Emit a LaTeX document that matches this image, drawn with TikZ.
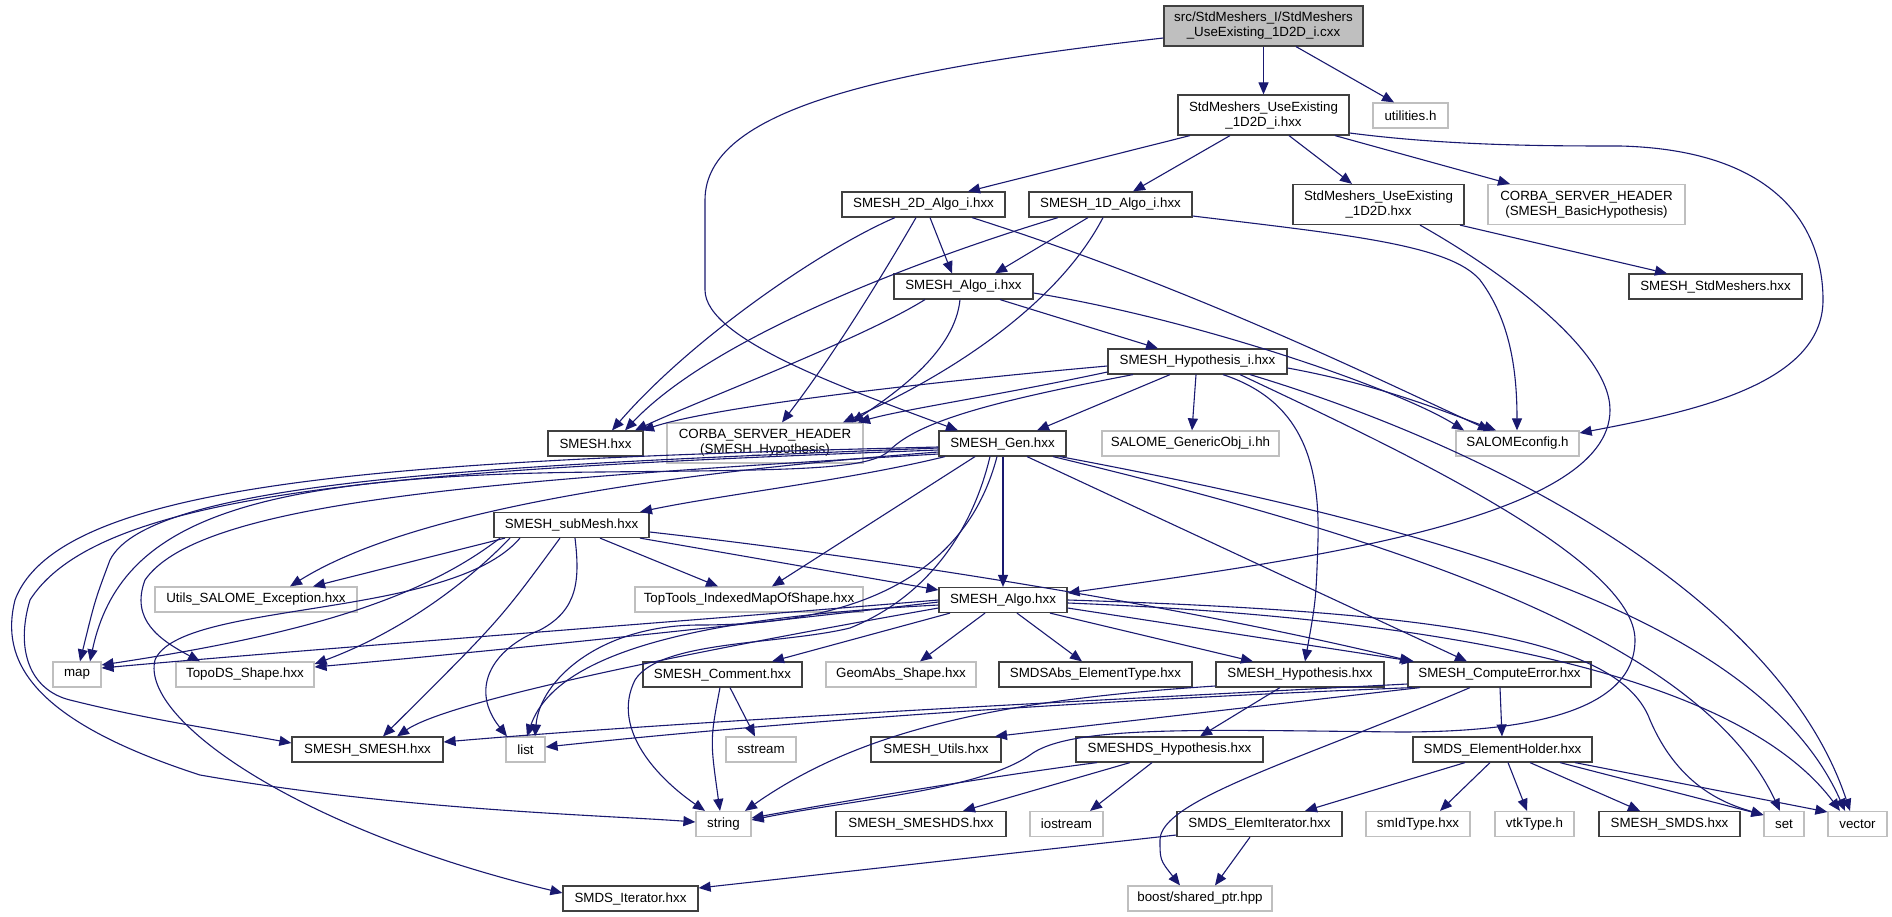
\documentclass[tikz,border=0pt]{standalone}
\usepackage{fontspec}
\setmainfont{Liberation Sans}
\usetikzlibrary{arrows.meta}
\definecolor{edgec}{HTML}{191970}
\definecolor{bordk}{HTML}{404040}
\definecolor{bordg}{HTML}{BFBFBF}
\definecolor{rootf}{HTML}{BFBFBF}
\newcommand{\nodefnt}{\fontsize{13.33pt}{15pt}\selectfont}
\begin{document}
\begin{tikzpicture}[x=1pt,y=-1pt,
  nb/.style={draw=bordk, line width=1.2pt, inner sep=0pt, align=center, font=\nodefnt, rectangle},
  ng/.style={nb, draw=bordg},
  nr/.style={nb, fill=rootf},
  e/.style={draw=edgec, line width=1.1pt, -{Triangle[length=12pt,width=10pt]}}]
\useasboundingbox (0,0) rectangle (1892,917);
\fill[white] (0,0) rectangle (1892,917);
% nodes
\node[nr, minimum width=199pt, minimum height=40pt] (root) at (1263.5,26) {src/StdMeshers\_I/StdMeshers\\\_UseExisting\_1D2D\_i.cxx};
\node[nb, minimum width=171pt, minimum height=40pt] (n1d2di) at (1263.5,115) {StdMeshers\_UseExisting\\\_1D2D\_i.hxx};
\node[ng, minimum width=75pt, minimum height=25pt] (util) at (1410.5,115.5) {utilities.h};
\node[nb, minimum width=163pt, minimum height=25pt] (a2d) at (923.5,204.5) {SMESH\_2D\_Algo\_i.hxx};
\node[nb, minimum width=163pt, minimum height=25pt] (a1d) at (1110.5,204.5) {SMESH\_1D\_Algo\_i.hxx};
\node[nb, minimum width=171pt, minimum height=40pt] (ue1d2d) at (1378.5,204.5) {StdMeshers\_UseExisting\\\_1D2D.hxx};
\node[ng, minimum width=197pt, minimum height=40pt] (corbaB) at (1586.5,204.5) {CORBA\_SERVER\_HEADER\\(SMESH\_BasicHypothesis)};
\node[nb, minimum width=139pt, minimum height=25pt] (algoi) at (963.5,286.5) {SMESH\_Algo\_i.hxx};
\node[nb, minimum width=173pt, minimum height=25pt] (stdm) at (1715.5,286.5) {SMESH\_StdMeshers.hxx};
\node[nb, minimum width=179pt, minimum height=25pt] (hypi) at (1197.5,361.5) {SMESH\_Hypothesis\_i.hxx};
\node[nb, minimum width=95pt, minimum height=25pt] (smeshh) at (595.5,443.5) {SMESH.hxx};
\node[ng, minimum width=196pt, minimum height=40pt] (corbaH) at (765,443) {CORBA\_SERVER\_HEADER\\(SMESH\_Hypothesis)};
\node[nb, minimum width=127pt, minimum height=25pt] (gen) at (1002.5,443.5) {SMESH\_Gen.hxx};
\node[ng, minimum width=177pt, minimum height=25pt] (salgen) at (1190.5,443.5) {SALOME\_GenericObj\_i.hh};
\node[ng, minimum width=123pt, minimum height=25pt] (salcfg) at (1517.5,443.5) {SALOMEconfig.h};
\node[nb, minimum width=155pt, minimum height=25pt] (submesh) at (571.5,525) {SMESH\_subMesh.hxx};
\node[ng, minimum width=202pt, minimum height=25pt] (utils) at (256,599.5) {Utils\_SALOME\_Exception.hxx};
\node[ng, minimum width=228pt, minimum height=25pt] (toptools) at (749,599.5) {TopTools\_IndexedMapOfShape.hxx};
\node[nb, minimum width=128pt, minimum height=25pt] (salgo) at (1003,600) {SMESH\_Algo.hxx};
\node[ng, minimum width=48pt, minimum height=25pt] (map) at (77,674.5) {map};
\node[ng, minimum width=138pt, minimum height=25pt] (topods) at (245,674.5) {TopoDS\_Shape.hxx};
\node[nb, minimum width=159pt, minimum height=25pt] (comment) at (722.5,674.5) {SMESH\_Comment.hxx};
\node[ng, minimum width=150pt, minimum height=25pt] (geomabs) at (901,674.5) {GeomAbs\_Shape.hxx};
\node[nb, minimum width=193pt, minimum height=25pt] (smdsabs) at (1095.5,674.5) {SMDSAbs\_ElementType.hxx};
\node[nb, minimum width=168pt, minimum height=25pt] (hyp) at (1300,674.5) {SMESH\_Hypothesis.hxx};
\node[nb, minimum width=183pt, minimum height=25pt] (comperr) at (1499.5,674.5) {SMESH\_ComputeError.hxx};
\node[nb, minimum width=151pt, minimum height=25pt] (smeshsmesh) at (367.5,749.5) {SMESH\_SMESH.hxx};
\node[ng, minimum width=39pt, minimum height=25pt] (list) at (525.5,749.5) {list};
\node[ng, minimum width=70pt, minimum height=25pt] (sstream) at (761,749.5) {sstream};
\node[nb, minimum width=130pt, minimum height=25pt] (utilsh) at (936,749.5) {SMESH\_Utils.hxx};
\node[nb, minimum width=187pt, minimum height=25pt] (dshyp) at (1169.5,749.5) {SMESHDS\_Hypothesis.hxx};
\node[nb, minimum width=179pt, minimum height=25pt] (holder) at (1502.5,749.5) {SMDS\_ElementHolder.hxx};
\node[ng, minimum width=55pt, minimum height=25pt] (string) at (723.5,824) {string};
\node[nb, minimum width=170pt, minimum height=25pt] (smeshds) at (921,824) {SMESH\_SMESHDS.hxx};
\node[ng, minimum width=73pt, minimum height=25pt] (iostream) at (1066.5,824) {iostream};
\node[nb, minimum width=165pt, minimum height=25pt] (elemit) at (1259.5,824) {SMDS\_ElemIterator.hxx};
\node[ng, minimum width=104pt, minimum height=25pt] (smid) at (1418,824) {smIdType.hxx};
\node[ng, minimum width=79pt, minimum height=25pt] (vtk) at (1534.5,824) {vtkType.h};
\node[nb, minimum width=141pt, minimum height=25pt] (smds) at (1669.5,824) {SMESH\_SMDS.hxx};
\node[ng, minimum width=40pt, minimum height=25pt] (set) at (1784,824) {set};
\node[ng, minimum width=59pt, minimum height=25pt] (vector) at (1857.5,824) {vector};
\node[nb, minimum width=135pt, minimum height=25pt] (iter) at (630.5,898.5) {SMDS\_Iterator.hxx};
\node[ng, minimum width=144pt, minimum height=25pt] (boost) at (1200,898.5) {boost/shared\_ptr.hpp};
% edges from root
\draw[e] (root.south -| 1263.5,0) -- (n1d2di.north -| 1263.5,0);
\draw[e] (root.south -| 1296,0) -- (util.north -| 1394,0);
\draw[e] (root.west |- 0,38) .. controls (880,70) and (705,110) .. (705,200) -- (705,290) .. controls (705,340) and (850,390) .. (gen.north -| 958,0);
% n1d2di
\draw[e] (n1d2di.south -| 1190,0) -- (a2d.north -| 968,0);
\draw[e] (n1d2di.south -| 1230,0) -- (a1d.north -| 1133,0);
\draw[e] (n1d2di.south -| 1289,0) -- (ue1d2d.north -| 1352,0);
\draw[e] (n1d2di.south -| 1335,0) -- (corbaB.north -| 1510,0);
\draw[e] (n1d2di.east |- 0,133) .. controls (1450,146) and (1550,146) .. (1620,146) .. controls (1780,150) and (1823,230) .. (1823,300) .. controls (1823,385) and (1690,412) .. (salcfg.east |- 0,433);
% ue1d2d
\draw[e] (ue1d2d.south -| 1460,0) -- (stdm.north -| 1667,0);
\draw[e] (ue1d2d.south -| 1420,0) .. controls (1500,270) and (1610,350) .. (1610,410) .. controls (1610,520) and (1300,560) .. (salgo.east |- 0,593);
% a2d
\draw[e] (a2d.south -| 930,0) -- (algoi.north -| 952,0);
\draw[e] (a2d.south -| 895,0) .. controls (820,250) and (690,340) .. (smeshh.north -| 612,0);
\draw[e] (a2d.south -| 916,0) .. controls (880,280) and (830,360) .. (corbaH.north -| 782,0);
\draw[e] (a2d.south -| 972,0) .. controls (1200,290) and (1400,390) .. (salcfg.north -| 1490,0);
% a1d
\draw[e] (a1d.south -| 1088,0) -- (algoi.north -| 995,0);
\draw[e] (a1d.south -| 1058,0) .. controls (950,250) and (720,330) .. (smeshh.north -| 625,0);
\draw[e] (a1d.south -| 1103,0) .. controls (1060,300) and (960,370) .. (corbaH.north -| 843,0);
\draw[e] (a1d.east |- 0,216) .. controls (1350,235) and (1450,245) .. (1480,280) .. controls (1510,320) and (1517,370) .. (salcfg.north -| 1517,0);
% algoi
\draw[e] (algoi.south -| 1000,0) -- (hypi.north -| 1158,0);
\draw[e] (algoi.south -| 925,0) .. controls (860,340) and (700,400) .. (smeshh.north -| 635,0);
\draw[e] (algoi.south -| 960,0) .. controls (955,350) and (900,390) .. (corbaH.north -| 852,0);
\draw[e] (algoi.east |- 0,293) .. controls (1200,320) and (1400,390) .. (salcfg.north -| 1464,0);
% hypi
\draw[e] (hypi.west |- 0,366) .. controls (950,380) and (720,405) .. (smeshh.north -| 642,0);
\draw[e] (hypi.west |- 0,372) .. controls (1000,395) and (900,410) .. (corbaH.north -| 858,0);
\draw[e] (hypi.south -| 1170,0) -- (gen.north -| 1037,0);
\draw[e] (hypi.south -| 1196,0) -- (salgen.north -| 1192,0);
\draw[e] (hypi.east |- 0,368) .. controls (1380,385) and (1440,410) .. (salcfg.north -| 1496,0);
\draw[e] (hypi.south -| 1223,0) .. controls (1300,400) and (1320,460) .. (1318,540) .. controls (1316,600) .. (hyp.north -| 1305,0);
\draw[e] (hypi.south -| 1250,0) .. controls (1500,450) and (1780,600) .. (vector.north -| 1850,0);
\draw[e] (hypi.south -| 1240,0) .. controls (1400,450) and (1635,560) .. (1635,640) .. controls (1635,720) and (1500,732) .. (1400,732) .. controls (1200,730) and (1070,725) .. (1030,755) .. controls (980,790) and (850,800) .. (string.east |- 0,820);
\draw[e] (hypi.south -| 1133,0) .. controls (1000,400) and (920,420) .. (890,450) .. controls (870,470) and (800,470) .. (600,472) .. controls (250,475) and (120,520) .. (map.north -| 90,0);
% gen
\draw[e] (gen.south -| 1003,0) -- (salgo.north -| 1003,0);
\draw[e] (gen.south -| 945,0) .. controls (850,480) and (720,495) .. (submesh.north -| 640,0);
\draw[e] (gen.west |- 0,452) .. controls (700,470) and (420,505) .. (utils.north -| 290,0);
\draw[e] (gen.south -| 975,0) -- (toptools.north -| 772,0);
\draw[e] (gen.south -| 1027,0) -- (comperr.north -| 1467,0);
\draw[e] (gen.south -| 1053,0) .. controls (1400,540) and (1700,640) .. (set.north -| 1780,0);
\draw[e] (gen.south -| 1060,0) .. controls (1450,530) and (1760,620) .. (vector.north -| 1845,0);
\draw[e] (gen.west |- 0,448) .. controls (500,465) and (150,480) .. (110,560) .. controls (95,600) .. (map.north -| 80,0);
\draw[e] (gen.west |- 0,454) .. controls (500,480) and (200,500) .. (145,580) .. controls (130,620) and (160,640) .. (topods.north -| 200,0);
\draw[e] (gen.west |- 0,450) .. controls (400,470) and (100,490) .. (30,600) .. controls (15,650) and (30,690) .. (70,700) .. controls (150,720) and (220,730) .. (smeshsmesh.west |- 0,743);
\draw[e] (gen.west |- 0,447) .. controls (400,460) and (60,480) .. (15,600) .. controls (0,660) and (30,720) .. (200,775) .. controls (400,810) and (600,815) .. (string.west |- 0,822);
\draw[e] (gen.south -| 990,0) .. controls (970,540) and (920,600) .. (850,628) .. controls (780,645) and (660,640) .. (635,680) .. controls (610,730) and (660,780) .. (string.north -| 705,0);
\draw[e] (gen.south -| 997,0) .. controls (970,560) and (880,625) .. (700,625) .. controls (600,625) and (540,680) .. (list.north -| 535,0);
% submesh
\draw[e] (submesh.south -| 505,0) -- (utils.north -| 313,0);
\draw[e] (submesh.south -| 600,0) -- (toptools.north -| 718,0);
\draw[e] (submesh.south -| 640,0) -- (salgo.west |- 0,590);
\draw[e] (submesh.east |- 0,532) .. controls (900,560) and (1200,610) .. (comperr.north -| 1412,0);
\draw[e] (submesh.south -| 500,0) .. controls (420,600) and (300,635) .. (map.east |- 0,665);
\draw[e] (submesh.south -| 510,0) .. controls (450,600) and (380,640) .. (topods.east |- 0,664);
\draw[e] (submesh.south -| 560,0) .. controls (500,620) .. (smeshsmesh.north -| 383,0);
\draw[e] (submesh.south -| 575,0) .. controls (580,580) and (578,610) .. (540,630) .. controls (490,650) and (470,690) .. (list.north -| 507,0);
\draw[e] (submesh.south -| 520,0) .. controls (450,620) and (180,600) .. (155,660) .. controls (140,720) and (300,830) .. (iter.west |- 0,893);
% salgo
\draw[e] (salgo.south -| 950,0) -- (comment.north -| 772,0);
\draw[e] (salgo.south -| 985,0) -- (geomabs.north -| 920,0);
\draw[e] (salgo.south -| 1017,0) -- (smdsabs.north -| 1082,0);
\draw[e] (salgo.south -| 1050,0) -- (hyp.north -| 1253,0);
\draw[e] (salgo.east |- 0,608) -- (comperr.north -| 1414,0);
\draw[e] (salgo.east |- 0,600) .. controls (1450,612) and (1620,640) .. (1650,720) .. controls (1680,790) and (1730,805) .. (set.west |- 0,815);
\draw[e] (salgo.east |- 0,603) .. controls (1500,620) and (1750,690) .. (vector.north -| 1840,0);
\draw[e] (salgo.west |- 0,600) .. controls (700,620) and (300,650) .. (map.east |- 0,668);
\draw[e] (salgo.west |- 0,602) .. controls (700,630) and (450,655) .. (topods.east |- 0,667);
\draw[e] (salgo.west |- 0,608) .. controls (700,650) and (450,700) .. (smeshsmesh.north -| 397,0);
\draw[e] (salgo.west |- 0,605) .. controls (750,615) and (560,640) .. (list.north -| 527,0);
% comperr
\draw[e] (comperr.south -| 1500,0) -- (holder.north -| 1502,0);
\draw[e] (comperr.south -| 1420,0) -- (utilsh.north -| 995,0);
\draw[e] (comperr.south -| 1412,0) .. controls (1100,700) and (800,720) .. (list.east |- 0,747);
\draw[e] (comperr.west |- 0,684) .. controls (1100,700) and (700,720) .. (smeshsmesh.east |- 0,742);
\draw[e] (comperr.south -| 1470,0) .. controls (1300,760) and (1160,800) .. (1160,840) .. controls (1160,860) .. (boost.north -| 1180,0);
% hyp
\draw[e] (hyp.south -| 1280,0) -- (dshyp.north -| 1200,0);
\draw[e] (hyp.west |- 0,686) .. controls (1000,700) and (860,730) .. (string.north -| 745,0);
% dshyp
\draw[e] (dshyp.south -| 1097,0) .. controls (1000,775) and (850,800) .. (string.east |- 0,818);
\draw[e] (dshyp.south -| 1130,0) -- (smeshds.north -| 963,0);
\draw[e] (dshyp.south -| 1152,0) -- (iostream.north -| 1090,0);
% comment
\draw[e] (comment.south -| 720,0) .. controls (710,740) .. (string.north -| 720,0);
\draw[e] (comment.south -| 730,0) -- (sstream.north -| 755,0);
% holder
\draw[e] (holder.south -| 1465,0) -- (elemit.north -| 1305,0);
\draw[e] (holder.south -| 1490,0) -- (smid.north -| 1440,0);
\draw[e] (holder.south -| 1508,0) -- (vtk.north -| 1527,0);
\draw[e] (holder.south -| 1530,0) -- (smds.north -| 1640,0);
\draw[e] (holder.south -| 1560,0) -- (set.west |- 0,815);
\draw[e] (holder.south -| 1575,0) -- (vector.west |- 0,812);
% elemit
\draw[e] (elemit.south -| 1250,0) -- (boost.north -| 1215,0);
\draw[e] (elemit.west |- 0,835) -- (iter.east |- 0,888);
\end{tikzpicture}
\end{document}
